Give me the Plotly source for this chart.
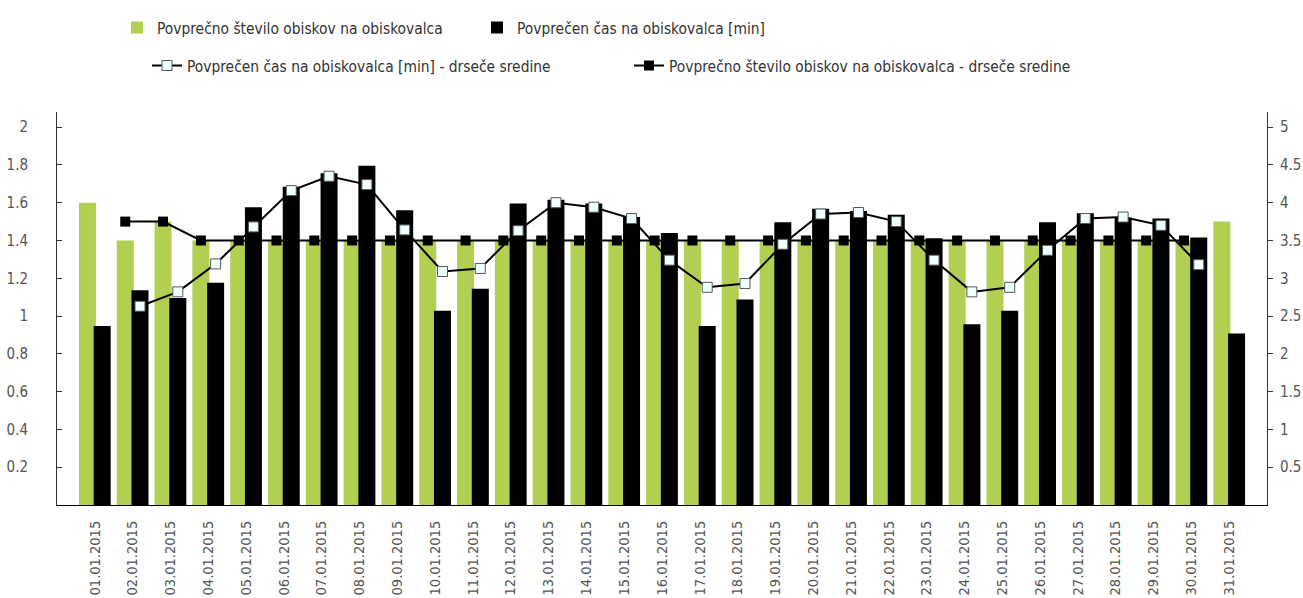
import plotly.graph_objects as go

dates = [f"{d:02d}.01.2015" for d in range(1, 32)]

visits = [1.6, 1.4, 1.5, 1.4, 1.4, 1.4, 1.4, 1.4, 1.4, 1.4,
          1.4, 1.4, 1.4, 1.4, 1.4, 1.4, 1.4, 1.4, 1.4, 1.4,
          1.4, 1.4, 1.4, 1.4, 1.4, 1.4, 1.4, 1.4, 1.4, 1.4, 1.5]

time_min = [2.37, 2.84, 2.74, 2.94, 3.94, 4.21, 4.39, 4.49, 3.9, 2.57,
            2.86, 3.99, 4.04, 3.99, 3.81, 3.6, 2.37, 2.72, 3.74, 3.92,
            3.89, 3.84, 3.53, 2.39, 2.57, 3.74, 3.86, 3.8, 3.79, 3.54, 2.27]

time_ma = [None, 2.63, 2.82, 3.19, 3.68, 4.16, 4.35, 4.24, 3.64, 3.09,
           3.13, 3.63, 4.0, 3.94, 3.79, 3.24, 2.88, 2.93, 3.45, 3.85,
           3.87, 3.75, 3.24, 2.82, 2.88, 3.37, 3.79, 3.81, 3.7, 3.18, None]

visits_ma = [None, 1.5, 1.5, 1.4, 1.4, 1.4, 1.4, 1.4, 1.4, 1.4,
             1.4, 1.4, 1.4, 1.4, 1.4, 1.4, 1.4, 1.4, 1.4, 1.4,
             1.4, 1.4, 1.4, 1.4, 1.4, 1.4, 1.4, 1.4, 1.4, 1.4, None]

left_ticks = [0.2, 0.4, 0.6, 0.8, 1, 1.2, 1.4, 1.6, 1.8, 2]
right_ticks = [0.5, 1, 1.5, 2, 2.5, 3, 3.5, 4, 4.5, 5]

names = ["Povprečno število obiskov na obiskovalca",
         "Povprečen čas na obiskovalca [min]",
         "Povprečen čas na obiskovalca [min] - drseče sredine",
         "Povprečno število obiskov na obiskovalca - drseče sredine"]

FONT = "DejaVu Sans Condensed, Liberation Sans Narrow, DejaVu Sans, sans-serif"
GREEN = "#B2CF52"
idx = list(range(len(dates)))
BW = 0.45
OFF_G = -0.42
OFF_B = -0.03
xg = [i + OFF_G + BW / 2 for i in idx]
xb = [i + OFF_B + BW / 2 for i in idx]

fig = go.Figure()
fig.add_trace(go.Bar(x=idx, y=visits, name=names[0], marker=dict(color=GREEN, line=dict(width=0)),
                     width=BW, offset=OFF_G, yaxis="y", legend="legend"))
fig.add_trace(go.Scatter(x=xg, y=visits_ma, name=names[3], mode="lines+markers",
                         line=dict(color="black", width=2),
                         marker=dict(symbol="square", size=10, color="black"),
                         yaxis="y", legend="legend2", legendrank=2))
fig.add_trace(go.Bar(x=idx, y=time_min, name=names[1], marker=dict(color="black", line=dict(width=0)),
                     width=BW, offset=OFF_B, yaxis="y2", legend="legend"))
fig.add_trace(go.Scatter(x=xb, y=time_ma, name=names[2], mode="lines+markers",
                         line=dict(color="black", width=2),
                         marker=dict(symbol="square", size=10, color="#F0FFFF",
                                     line=dict(color="#555555", width=1)),
                         yaxis="y2", legend="legend2", legendrank=1))

fig.update_layout(
    width=1303, height=598,
    margin=dict(l=57, r=36, t=112, b=93),
    plot_bgcolor="white", paper_bgcolor="white",
    font=dict(family=FONT, size=14, color="#555555"),
    barmode="overlay",
    xaxis=dict(range=[-1, 31], tickvals=idx, ticktext=dates, tickangle=-90,
               showline=True, linecolor="black", linewidth=1, ticks="",
               showgrid=False, zeroline=False, ticklabelstandoff=9, automargin=False,
               tickfont=dict(size=14.5, color="#555555")),
    yaxis=dict(range=[0, 2.08], tickvals=left_ticks, ticks="inside", ticklen=5,
               tickcolor="#333333", showline=True, linecolor="#333333", linewidth=1,
               showgrid=False, zeroline=False, ticklabelstandoff=25, automargin=False,
               tickfont=dict(size=15, color="#555555")),
    yaxis2=dict(range=[0, 5.2], tickvals=right_ticks, overlaying="y", side="right",
                ticks="outside", ticklen=5, tickcolor="#333333", showline=True,
                linecolor="#333333", linewidth=1, showgrid=False, zeroline=False,
                ticklabelstandoff=4, automargin=False,
                tickfont=dict(size=15, color="#555555")),
    legend=dict(orientation="h", xref="container", yref="container",
                x=117 / 1303, y=1 - 11 / 598, xanchor="left", yanchor="top",
                entrywidth=315, font=dict(size=15.4, color="#333333"),
                bgcolor="rgba(0,0,0,0)", traceorder="normal"),
    legend2=dict(orientation="h", xref="container", yref="container",
                 x=147 / 1303, y=1 - 49 / 598, xanchor="left", yanchor="top",
                 entrywidth=437, font=dict(size=15.4, color="#333333"),
                 bgcolor="rgba(0,0,0,0)", traceorder="normal"),
    showlegend=True,
)

fig.write_html("out.html", config={"displayModeBar": False},
               post_script="document.body.style.margin='0';")
